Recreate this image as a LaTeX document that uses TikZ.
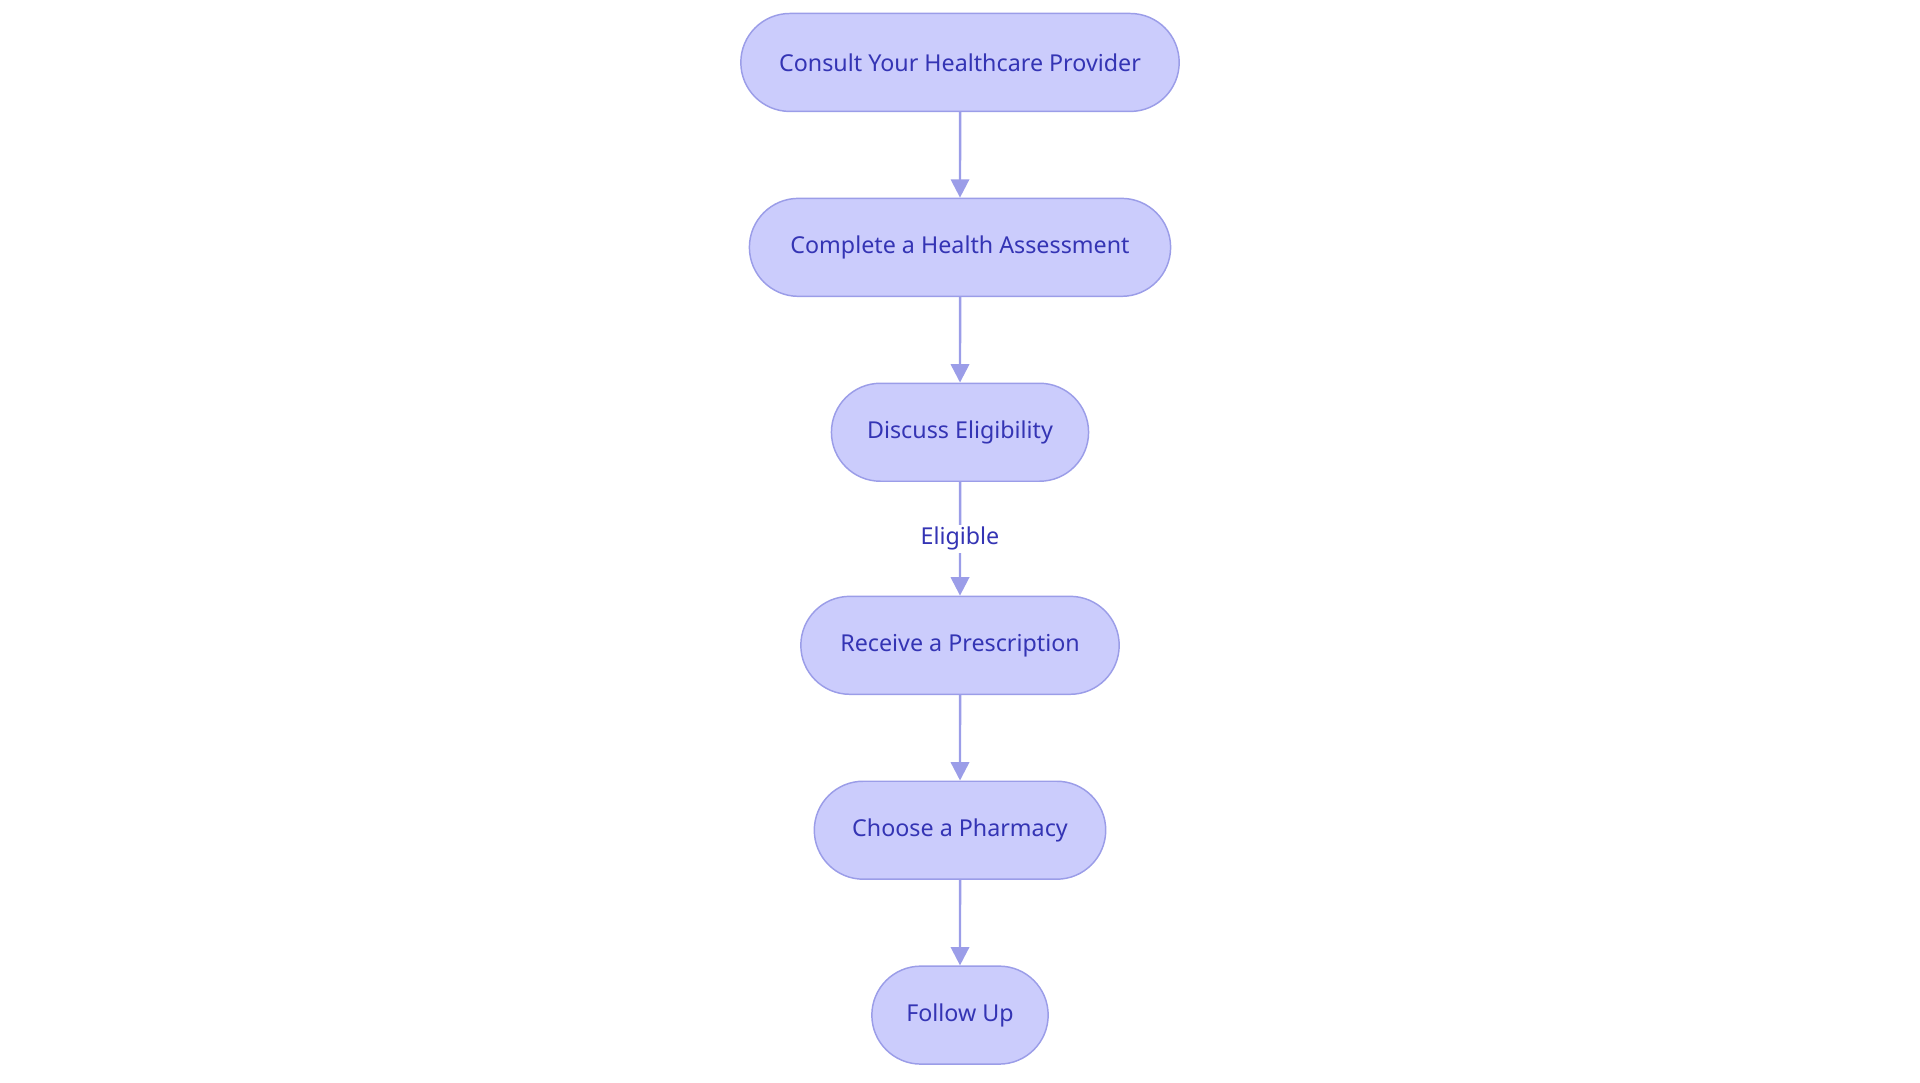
\documentclass[tikz,border=0pt]{standalone}
\usepackage{fontspec}
\setmainfont{Noto Sans}
\usetikzlibrary{arrows.meta,shapes.misc}
\definecolor{stepfill}{HTML}{CBCCFC}
\definecolor{stepdraw}{HTML}{9B9DE8}
\definecolor{steptext}{HTML}{3434B4}
\tikzset{
    stage/.style={rounded rectangle,draw=stepdraw,fill=stepfill,line width=1.2pt,minimum height=80,inner sep=0pt,font=\fontsize{19}{23}\selectfont,text=steptext},
    edgelabel/.style={rectangle,fill=white,draw=none,font=\fontsize{19}{23}\selectfont,text=steptext,inner sep=2pt},
    flow/.style={draw=stepdraw,line width=2pt,arrows={-Triangle[length=15pt,width=15pt]}},
    }
\begin{document}
\begin{tikzpicture}[x=1pt,y=-1pt]
        \useasboundingbox (0,0) rectangle (1568,884);
		\node[stage,minimum width=358] (a) at (784,51) {Consult Your Healthcare Provider};
		\node[stage,minimum width=344] (b) at (784,202) {Complete a Health Assessment};
		\node[stage,minimum width=210] (c) at (784,353) {Discuss Eligibility};
		\node[stage,minimum width=260] (d) at (784,527) {Receive a Prescription};
		\node[stage,minimum width=238] (e) at (784,678) {Choose a Pharmacy};
		\node[stage,minimum width=144] (f) at (784,829) {Follow Up};

		\draw[flow] (a) to (b);
		\draw[flow] (b) to (c);
		\draw[flow] (c) to node[edgelabel] {Eligible} (d);
		\draw[flow] (d) to (e);
		\draw[flow] (e) to (f);
    \end{tikzpicture}
\end{document}
